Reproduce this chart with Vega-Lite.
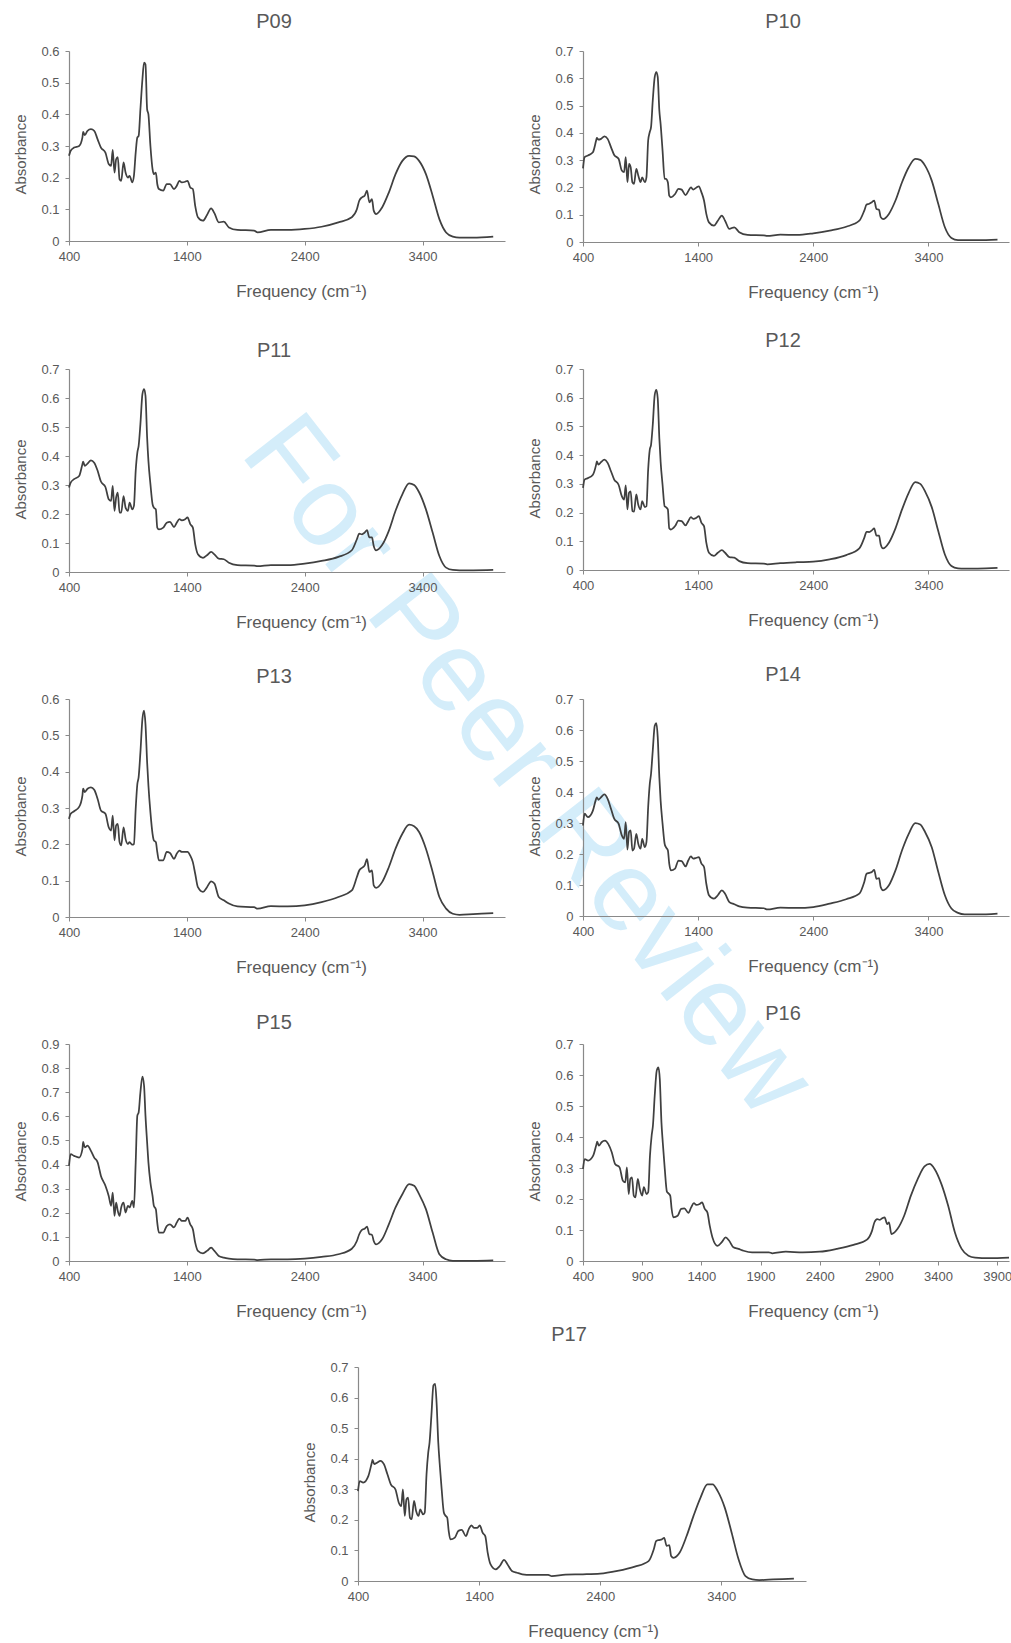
{
"$schema":"https://vega.github.io/schema/vega-lite/v6.json",
"padding":{"left":13,"top":12,"right":0,"bottom":0},
"spacing":6,
"datasets":{
"P09":[{"x":400,"y":0.269},{"x":414,"y":0.285},{"x":443,"y":0.295},{"x":486,"y":0.3},{"x":514,"y":0.327},{"x":520,"y":0.345},{"x":534,"y":0.334},{"x":557,"y":0.348},{"x":586,"y":0.353},{"x":614,"y":0.348},{"x":643,"y":0.321},{"x":671,"y":0.295},{"x":709,"y":0.279},{"x":737,"y":0.243},{"x":757,"y":0.237},{"x":771,"y":0.288},{"x":786,"y":0.216},{"x":800,"y":0.258},{"x":814,"y":0.265},{"x":829,"y":0.195},{"x":843,"y":0.19},{"x":863,"y":0.248},{"x":880,"y":0.216},{"x":900,"y":0.2},{"x":914,"y":0.206},{"x":937,"y":0.185},{"x":951,"y":0.206},{"x":966,"y":0.279},{"x":980,"y":0.327},{"x":991,"y":0.332},{"x":1006,"y":0.416},{"x":1023,"y":0.51},{"x":1037,"y":0.563},{"x":1049,"y":0.558},{"x":1063,"y":0.416},{"x":1074,"y":0.4},{"x":1091,"y":0.3},{"x":1109,"y":0.227},{"x":1120,"y":0.211},{"x":1137,"y":0.216},{"x":1149,"y":0.18},{"x":1163,"y":0.164},{"x":1200,"y":0.159},{"x":1229,"y":0.18},{"x":1257,"y":0.18},{"x":1291,"y":0.164},{"x":1314,"y":0.174},{"x":1337,"y":0.19},{"x":1357,"y":0.185},{"x":1386,"y":0.187},{"x":1406,"y":0.19},{"x":1429,"y":0.169},{"x":1451,"y":0.164},{"x":1471,"y":0.111},{"x":1494,"y":0.075},{"x":1537,"y":0.064},{"x":1571,"y":0.082},{"x":1606,"y":0.103},{"x":1634,"y":0.088},{"x":1671,"y":0.059},{"x":1714,"y":0.061},{"x":1757,"y":0.043},{"x":1829,"y":0.035},{"x":1971,"y":0.033},{"x":2000,"y":0.027},{"x":2114,"y":0.035},{"x":2257,"y":0.035},{"x":2400,"y":0.038},{"x":2543,"y":0.045},{"x":2686,"y":0.059},{"x":2800,"y":0.075},{"x":2843,"y":0.1},{"x":2863,"y":0.127},{"x":2886,"y":0.138},{"x":2909,"y":0.143},{"x":2929,"y":0.159},{"x":2949,"y":0.122},{"x":2971,"y":0.132},{"x":2986,"y":0.096},{"x":3006,"y":0.085},{"x":3057,"y":0.106},{"x":3114,"y":0.153},{"x":3171,"y":0.211},{"x":3229,"y":0.253},{"x":3286,"y":0.269},{"x":3329,"y":0.267},{"x":3371,"y":0.253},{"x":3429,"y":0.211},{"x":3486,"y":0.143},{"x":3543,"y":0.069},{"x":3600,"y":0.027},{"x":3657,"y":0.014},{"x":3714,"y":0.011},{"x":3829,"y":0.011},{"x":4000,"y":0.014}],
"P10":[{"x":400,"y":0.27},{"x":414,"y":0.311},{"x":443,"y":0.317},{"x":486,"y":0.329},{"x":514,"y":0.372},{"x":520,"y":0.382},{"x":534,"y":0.375},{"x":557,"y":0.378},{"x":586,"y":0.387},{"x":614,"y":0.378},{"x":643,"y":0.348},{"x":671,"y":0.319},{"x":709,"y":0.305},{"x":737,"y":0.262},{"x":757,"y":0.256},{"x":771,"y":0.311},{"x":786,"y":0.219},{"x":800,"y":0.286},{"x":814,"y":0.274},{"x":829,"y":0.219},{"x":843,"y":0.213},{"x":863,"y":0.268},{"x":880,"y":0.244},{"x":900,"y":0.219},{"x":914,"y":0.237},{"x":937,"y":0.219},{"x":951,"y":0.237},{"x":966,"y":0.372},{"x":980,"y":0.403},{"x":991,"y":0.421},{"x":1006,"y":0.519},{"x":1023,"y":0.605},{"x":1037,"y":0.623},{"x":1049,"y":0.605},{"x":1063,"y":0.482},{"x":1074,"y":0.433},{"x":1091,"y":0.335},{"x":1109,"y":0.231},{"x":1120,"y":0.231},{"x":1137,"y":0.219},{"x":1149,"y":0.17},{"x":1163,"y":0.164},{"x":1200,"y":0.176},{"x":1229,"y":0.195},{"x":1257,"y":0.192},{"x":1291,"y":0.172},{"x":1314,"y":0.186},{"x":1337,"y":0.2},{"x":1357,"y":0.192},{"x":1386,"y":0.2},{"x":1406,"y":0.204},{"x":1429,"y":0.182},{"x":1451,"y":0.152},{"x":1471,"y":0.103},{"x":1494,"y":0.072},{"x":1537,"y":0.06},{"x":1571,"y":0.078},{"x":1606,"y":0.097},{"x":1634,"y":0.078},{"x":1671,"y":0.048},{"x":1714,"y":0.054},{"x":1757,"y":0.036},{"x":1829,"y":0.026},{"x":1971,"y":0.024},{"x":2000,"y":0.022},{"x":2114,"y":0.027},{"x":2257,"y":0.026},{"x":2400,"y":0.032},{"x":2543,"y":0.042},{"x":2686,"y":0.056},{"x":2800,"y":0.078},{"x":2843,"y":0.115},{"x":2863,"y":0.137},{"x":2886,"y":0.14},{"x":2909,"y":0.146},{"x":2929,"y":0.152},{"x":2949,"y":0.121},{"x":2971,"y":0.118},{"x":2986,"y":0.091},{"x":3006,"y":0.084},{"x":3057,"y":0.103},{"x":3114,"y":0.152},{"x":3171,"y":0.219},{"x":3229,"y":0.274},{"x":3286,"y":0.305},{"x":3329,"y":0.301},{"x":3371,"y":0.28},{"x":3429,"y":0.225},{"x":3486,"y":0.139},{"x":3543,"y":0.054},{"x":3600,"y":0.015},{"x":3657,"y":0.007},{"x":3714,"y":0.007},{"x":3829,"y":0.007},{"x":4000,"y":0.009}],
"P11":[{"x":400,"y":0.291},{"x":414,"y":0.308},{"x":443,"y":0.32},{"x":486,"y":0.331},{"x":514,"y":0.372},{"x":520,"y":0.381},{"x":534,"y":0.366},{"x":557,"y":0.374},{"x":586,"y":0.385},{"x":614,"y":0.377},{"x":643,"y":0.349},{"x":671,"y":0.312},{"x":709,"y":0.293},{"x":737,"y":0.251},{"x":757,"y":0.245},{"x":771,"y":0.297},{"x":786,"y":0.211},{"x":800,"y":0.257},{"x":814,"y":0.274},{"x":829,"y":0.205},{"x":843,"y":0.205},{"x":863,"y":0.262},{"x":880,"y":0.222},{"x":900,"y":0.211},{"x":914,"y":0.239},{"x":937,"y":0.216},{"x":951,"y":0.228},{"x":966,"y":0.349},{"x":980,"y":0.412},{"x":991,"y":0.435},{"x":1006,"y":0.51},{"x":1023,"y":0.613},{"x":1037,"y":0.631},{"x":1049,"y":0.608},{"x":1063,"y":0.464},{"x":1074,"y":0.383},{"x":1091,"y":0.303},{"x":1109,"y":0.234},{"x":1120,"y":0.222},{"x":1137,"y":0.216},{"x":1149,"y":0.153},{"x":1163,"y":0.147},{"x":1200,"y":0.153},{"x":1229,"y":0.17},{"x":1257,"y":0.173},{"x":1291,"y":0.155},{"x":1314,"y":0.17},{"x":1337,"y":0.182},{"x":1357,"y":0.178},{"x":1386,"y":0.182},{"x":1406,"y":0.188},{"x":1429,"y":0.165},{"x":1451,"y":0.153},{"x":1471,"y":0.096},{"x":1494,"y":0.061},{"x":1537,"y":0.049},{"x":1571,"y":0.058},{"x":1606,"y":0.069},{"x":1634,"y":0.061},{"x":1671,"y":0.046},{"x":1714,"y":0.044},{"x":1757,"y":0.032},{"x":1829,"y":0.024},{"x":1971,"y":0.022},{"x":2000,"y":0.02},{"x":2114,"y":0.024},{"x":2257,"y":0.024},{"x":2400,"y":0.029},{"x":2543,"y":0.038},{"x":2686,"y":0.052},{"x":2800,"y":0.075},{"x":2843,"y":0.113},{"x":2863,"y":0.132},{"x":2886,"y":0.13},{"x":2909,"y":0.136},{"x":2929,"y":0.144},{"x":2949,"y":0.119},{"x":2971,"y":0.119},{"x":2986,"y":0.09},{"x":3006,"y":0.075},{"x":3057,"y":0.093},{"x":3114,"y":0.142},{"x":3171,"y":0.211},{"x":3229,"y":0.268},{"x":3286,"y":0.306},{"x":3329,"y":0.3},{"x":3371,"y":0.275},{"x":3429,"y":0.216},{"x":3486,"y":0.136},{"x":3543,"y":0.055},{"x":3600,"y":0.015},{"x":3657,"y":0.007},{"x":3714,"y":0.006},{"x":3829,"y":0.006},{"x":4000,"y":0.007}],
"P12":[{"x":400,"y":0.286},{"x":414,"y":0.315},{"x":443,"y":0.32},{"x":486,"y":0.332},{"x":514,"y":0.367},{"x":520,"y":0.378},{"x":534,"y":0.367},{"x":557,"y":0.376},{"x":586,"y":0.384},{"x":614,"y":0.373},{"x":643,"y":0.344},{"x":671,"y":0.315},{"x":709,"y":0.297},{"x":737,"y":0.257},{"x":757,"y":0.245},{"x":771,"y":0.295},{"x":786,"y":0.211},{"x":800,"y":0.269},{"x":814,"y":0.274},{"x":829,"y":0.205},{"x":843,"y":0.203},{"x":863,"y":0.263},{"x":880,"y":0.227},{"x":900,"y":0.211},{"x":914,"y":0.24},{"x":937,"y":0.219},{"x":951,"y":0.222},{"x":966,"y":0.35},{"x":980,"y":0.419},{"x":991,"y":0.436},{"x":1006,"y":0.506},{"x":1023,"y":0.61},{"x":1037,"y":0.627},{"x":1049,"y":0.598},{"x":1063,"y":0.459},{"x":1074,"y":0.378},{"x":1091,"y":0.297},{"x":1109,"y":0.222},{"x":1120,"y":0.219},{"x":1137,"y":0.211},{"x":1149,"y":0.145},{"x":1163,"y":0.141},{"x":1200,"y":0.153},{"x":1229,"y":0.172},{"x":1257,"y":0.17},{"x":1291,"y":0.155},{"x":1314,"y":0.17},{"x":1337,"y":0.184},{"x":1357,"y":0.178},{"x":1386,"y":0.182},{"x":1406,"y":0.188},{"x":1429,"y":0.164},{"x":1451,"y":0.153},{"x":1471,"y":0.095},{"x":1494,"y":0.06},{"x":1537,"y":0.049},{"x":1571,"y":0.06},{"x":1606,"y":0.069},{"x":1634,"y":0.06},{"x":1671,"y":0.045},{"x":1714,"y":0.043},{"x":1757,"y":0.031},{"x":1829,"y":0.024},{"x":1971,"y":0.022},{"x":2000,"y":0.02},{"x":2114,"y":0.024},{"x":2257,"y":0.027},{"x":2400,"y":0.029},{"x":2543,"y":0.037},{"x":2686,"y":0.052},{"x":2800,"y":0.075},{"x":2843,"y":0.112},{"x":2863,"y":0.133},{"x":2886,"y":0.132},{"x":2909,"y":0.138},{"x":2929,"y":0.145},{"x":2949,"y":0.12},{"x":2971,"y":0.12},{"x":2986,"y":0.089},{"x":3006,"y":0.075},{"x":3057,"y":0.095},{"x":3114,"y":0.145},{"x":3171,"y":0.211},{"x":3229,"y":0.269},{"x":3286,"y":0.306},{"x":3329,"y":0.3},{"x":3371,"y":0.274},{"x":3429,"y":0.219},{"x":3486,"y":0.135},{"x":3543,"y":0.054},{"x":3600,"y":0.014},{"x":3657,"y":0.006},{"x":3714,"y":0.005},{"x":3829,"y":0.005},{"x":4000,"y":0.007}],
"P13":[{"x":400,"y":0.27},{"x":414,"y":0.284},{"x":443,"y":0.291},{"x":486,"y":0.303},{"x":514,"y":0.335},{"x":520,"y":0.353},{"x":534,"y":0.344},{"x":557,"y":0.353},{"x":586,"y":0.357},{"x":614,"y":0.35},{"x":643,"y":0.325},{"x":671,"y":0.293},{"x":709,"y":0.284},{"x":737,"y":0.247},{"x":757,"y":0.238},{"x":771,"y":0.279},{"x":786,"y":0.211},{"x":800,"y":0.252},{"x":814,"y":0.256},{"x":829,"y":0.206},{"x":843,"y":0.197},{"x":863,"y":0.247},{"x":880,"y":0.215},{"x":900,"y":0.201},{"x":914,"y":0.206},{"x":937,"y":0.199},{"x":951,"y":0.201},{"x":966,"y":0.298},{"x":980,"y":0.366},{"x":991,"y":0.385},{"x":1006,"y":0.453},{"x":1023,"y":0.545},{"x":1037,"y":0.568},{"x":1049,"y":0.531},{"x":1063,"y":0.426},{"x":1074,"y":0.362},{"x":1091,"y":0.288},{"x":1109,"y":0.229},{"x":1120,"y":0.211},{"x":1137,"y":0.206},{"x":1149,"y":0.179},{"x":1163,"y":0.156},{"x":1200,"y":0.156},{"x":1229,"y":0.179},{"x":1257,"y":0.176},{"x":1291,"y":0.16},{"x":1314,"y":0.174},{"x":1337,"y":0.183},{"x":1357,"y":0.179},{"x":1386,"y":0.179},{"x":1406,"y":0.179},{"x":1429,"y":0.169},{"x":1451,"y":0.151},{"x":1471,"y":0.119},{"x":1494,"y":0.082},{"x":1537,"y":0.069},{"x":1571,"y":0.082},{"x":1606,"y":0.098},{"x":1634,"y":0.092},{"x":1671,"y":0.055},{"x":1714,"y":0.046},{"x":1757,"y":0.037},{"x":1829,"y":0.029},{"x":1971,"y":0.027},{"x":2000,"y":0.023},{"x":2114,"y":0.03},{"x":2257,"y":0.029},{"x":2400,"y":0.032},{"x":2543,"y":0.041},{"x":2686,"y":0.055},{"x":2800,"y":0.073},{"x":2843,"y":0.11},{"x":2863,"y":0.128},{"x":2886,"y":0.135},{"x":2909,"y":0.142},{"x":2929,"y":0.159},{"x":2949,"y":0.124},{"x":2971,"y":0.128},{"x":2986,"y":0.087},{"x":3006,"y":0.08},{"x":3057,"y":0.096},{"x":3114,"y":0.137},{"x":3171,"y":0.188},{"x":3229,"y":0.229},{"x":3286,"y":0.254},{"x":3329,"y":0.25},{"x":3371,"y":0.234},{"x":3429,"y":0.188},{"x":3486,"y":0.124},{"x":3543,"y":0.055},{"x":3600,"y":0.023},{"x":3657,"y":0.009},{"x":3714,"y":0.006},{"x":3829,"y":0.008},{"x":4000,"y":0.011}],
"P14":[{"x":400,"y":0.292},{"x":414,"y":0.33},{"x":443,"y":0.319},{"x":486,"y":0.34},{"x":514,"y":0.378},{"x":520,"y":0.383},{"x":534,"y":0.375},{"x":557,"y":0.383},{"x":586,"y":0.392},{"x":614,"y":0.378},{"x":643,"y":0.346},{"x":671,"y":0.314},{"x":709,"y":0.298},{"x":737,"y":0.26},{"x":757,"y":0.249},{"x":771,"y":0.303},{"x":786,"y":0.214},{"x":800,"y":0.271},{"x":814,"y":0.276},{"x":829,"y":0.211},{"x":843,"y":0.217},{"x":863,"y":0.265},{"x":880,"y":0.233},{"x":900,"y":0.217},{"x":914,"y":0.249},{"x":937,"y":0.222},{"x":951,"y":0.238},{"x":966,"y":0.351},{"x":980,"y":0.426},{"x":991,"y":0.459},{"x":1006,"y":0.534},{"x":1023,"y":0.614},{"x":1037,"y":0.622},{"x":1049,"y":0.577},{"x":1063,"y":0.448},{"x":1074,"y":0.373},{"x":1091,"y":0.298},{"x":1109,"y":0.233},{"x":1120,"y":0.222},{"x":1137,"y":0.212},{"x":1149,"y":0.169},{"x":1163,"y":0.147},{"x":1200,"y":0.153},{"x":1229,"y":0.179},{"x":1257,"y":0.177},{"x":1291,"y":0.16},{"x":1314,"y":0.179},{"x":1337,"y":0.192},{"x":1357,"y":0.185},{"x":1386,"y":0.188},{"x":1406,"y":0.19},{"x":1429,"y":0.169},{"x":1451,"y":0.158},{"x":1471,"y":0.104},{"x":1494,"y":0.067},{"x":1537,"y":0.056},{"x":1571,"y":0.067},{"x":1606,"y":0.083},{"x":1634,"y":0.072},{"x":1671,"y":0.045},{"x":1714,"y":0.038},{"x":1757,"y":0.031},{"x":1829,"y":0.027},{"x":1971,"y":0.025},{"x":2000,"y":0.021},{"x":2114,"y":0.027},{"x":2257,"y":0.026},{"x":2400,"y":0.029},{"x":2543,"y":0.04},{"x":2686,"y":0.054},{"x":2800,"y":0.072},{"x":2843,"y":0.11},{"x":2863,"y":0.136},{"x":2886,"y":0.139},{"x":2909,"y":0.142},{"x":2929,"y":0.149},{"x":2949,"y":0.12},{"x":2971,"y":0.122},{"x":2986,"y":0.093},{"x":3006,"y":0.083},{"x":3057,"y":0.099},{"x":3114,"y":0.147},{"x":3171,"y":0.212},{"x":3229,"y":0.265},{"x":3286,"y":0.3},{"x":3329,"y":0.295},{"x":3371,"y":0.271},{"x":3429,"y":0.222},{"x":3486,"y":0.142},{"x":3543,"y":0.067},{"x":3600,"y":0.024},{"x":3657,"y":0.01},{"x":3714,"y":0.005},{"x":3829,"y":0.005},{"x":4000,"y":0.008}],
"P15":[{"x":400,"y":0.395},{"x":414,"y":0.443},{"x":443,"y":0.436},{"x":486,"y":0.429},{"x":514,"y":0.464},{"x":520,"y":0.494},{"x":534,"y":0.471},{"x":557,"y":0.478},{"x":586,"y":0.457},{"x":614,"y":0.429},{"x":643,"y":0.409},{"x":671,"y":0.353},{"x":709,"y":0.312},{"x":737,"y":0.27},{"x":757,"y":0.229},{"x":771,"y":0.284},{"x":786,"y":0.187},{"x":800,"y":0.242},{"x":814,"y":0.208},{"x":829,"y":0.187},{"x":843,"y":0.222},{"x":863,"y":0.242},{"x":880,"y":0.201},{"x":900,"y":0.229},{"x":914,"y":0.222},{"x":937,"y":0.249},{"x":951,"y":0.222},{"x":966,"y":0.409},{"x":980,"y":0.603},{"x":991,"y":0.616},{"x":1006,"y":0.7},{"x":1023,"y":0.765},{"x":1037,"y":0.727},{"x":1049,"y":0.603},{"x":1063,"y":0.492},{"x":1074,"y":0.409},{"x":1091,"y":0.325},{"x":1109,"y":0.27},{"x":1120,"y":0.229},{"x":1137,"y":0.215},{"x":1149,"y":0.159},{"x":1163,"y":0.118},{"x":1200,"y":0.118},{"x":1229,"y":0.145},{"x":1257,"y":0.152},{"x":1291,"y":0.139},{"x":1314,"y":0.159},{"x":1337,"y":0.176},{"x":1357,"y":0.166},{"x":1386,"y":0.166},{"x":1406,"y":0.18},{"x":1429,"y":0.152},{"x":1451,"y":0.132},{"x":1471,"y":0.076},{"x":1494,"y":0.042},{"x":1537,"y":0.032},{"x":1571,"y":0.042},{"x":1606,"y":0.055},{"x":1634,"y":0.042},{"x":1671,"y":0.021},{"x":1714,"y":0.014},{"x":1757,"y":0.01},{"x":1829,"y":0.007},{"x":1971,"y":0.006},{"x":2000,"y":0.004},{"x":2114,"y":0.007},{"x":2257,"y":0.007},{"x":2400,"y":0.01},{"x":2543,"y":0.017},{"x":2686,"y":0.028},{"x":2800,"y":0.051},{"x":2843,"y":0.083},{"x":2863,"y":0.111},{"x":2886,"y":0.129},{"x":2909,"y":0.134},{"x":2929,"y":0.143},{"x":2949,"y":0.111},{"x":2971,"y":0.109},{"x":2986,"y":0.083},{"x":3006,"y":0.069},{"x":3057,"y":0.09},{"x":3114,"y":0.152},{"x":3171,"y":0.222},{"x":3229,"y":0.277},{"x":3286,"y":0.319},{"x":3329,"y":0.312},{"x":3371,"y":0.277},{"x":3429,"y":0.215},{"x":3486,"y":0.118},{"x":3543,"y":0.028},{"x":3600,"y":0.007},{"x":3657,"y":0.001},{"x":3714,"y":0.001},{"x":3829,"y":0.001},{"x":4000,"y":0.003}],
"P16":[{"x":400,"y":0.297},{"x":414,"y":0.329},{"x":443,"y":0.324},{"x":486,"y":0.34},{"x":514,"y":0.377},{"x":520,"y":0.385},{"x":534,"y":0.372},{"x":557,"y":0.383},{"x":586,"y":0.388},{"x":614,"y":0.377},{"x":643,"y":0.351},{"x":671,"y":0.313},{"x":709,"y":0.302},{"x":737,"y":0.259},{"x":757,"y":0.254},{"x":771,"y":0.302},{"x":786,"y":0.216},{"x":800,"y":0.265},{"x":814,"y":0.27},{"x":829,"y":0.211},{"x":843,"y":0.205},{"x":863,"y":0.265},{"x":880,"y":0.232},{"x":900,"y":0.211},{"x":914,"y":0.238},{"x":937,"y":0.216},{"x":951,"y":0.222},{"x":966,"y":0.34},{"x":980,"y":0.404},{"x":991,"y":0.437},{"x":1006,"y":0.533},{"x":1023,"y":0.614},{"x":1037,"y":0.625},{"x":1049,"y":0.587},{"x":1063,"y":0.447},{"x":1074,"y":0.383},{"x":1091,"y":0.297},{"x":1109,"y":0.224},{"x":1120,"y":0.219},{"x":1137,"y":0.211},{"x":1149,"y":0.168},{"x":1163,"y":0.141},{"x":1200,"y":0.146},{"x":1229,"y":0.168},{"x":1257,"y":0.17},{"x":1291,"y":0.155},{"x":1314,"y":0.173},{"x":1337,"y":0.187},{"x":1357,"y":0.181},{"x":1386,"y":0.184},{"x":1406,"y":0.189},{"x":1429,"y":0.168},{"x":1451,"y":0.157},{"x":1471,"y":0.114},{"x":1494,"y":0.076},{"x":1537,"y":0.049},{"x":1571,"y":0.06},{"x":1606,"y":0.076},{"x":1634,"y":0.066},{"x":1671,"y":0.044},{"x":1714,"y":0.039},{"x":1757,"y":0.033},{"x":1829,"y":0.028},{"x":1971,"y":0.028},{"x":2000,"y":0.025},{"x":2114,"y":0.03},{"x":2257,"y":0.028},{"x":2400,"y":0.03},{"x":2543,"y":0.039},{"x":2686,"y":0.052},{"x":2800,"y":0.069},{"x":2843,"y":0.098},{"x":2863,"y":0.125},{"x":2886,"y":0.135},{"x":2909,"y":0.133},{"x":2929,"y":0.138},{"x":2949,"y":0.141},{"x":2971,"y":0.119},{"x":2986,"y":0.125},{"x":3006,"y":0.087},{"x":3057,"y":0.103},{"x":3114,"y":0.146},{"x":3171,"y":0.211},{"x":3229,"y":0.265},{"x":3286,"y":0.305},{"x":3329,"y":0.313},{"x":3371,"y":0.297},{"x":3429,"y":0.248},{"x":3486,"y":0.178},{"x":3543,"y":0.092},{"x":3600,"y":0.039},{"x":3657,"y":0.017},{"x":3714,"y":0.011},{"x":3829,"y":0.009},{"x":4000,"y":0.011}],
"P17":[{"x":400,"y":0.294},{"x":414,"y":0.327},{"x":443,"y":0.322},{"x":486,"y":0.344},{"x":514,"y":0.387},{"x":520,"y":0.396},{"x":534,"y":0.382},{"x":557,"y":0.387},{"x":586,"y":0.393},{"x":614,"y":0.382},{"x":643,"y":0.349},{"x":671,"y":0.316},{"x":709,"y":0.3},{"x":737,"y":0.256},{"x":757,"y":0.245},{"x":771,"y":0.3},{"x":786,"y":0.213},{"x":800,"y":0.267},{"x":814,"y":0.273},{"x":829,"y":0.207},{"x":843,"y":0.202},{"x":863,"y":0.262},{"x":880,"y":0.229},{"x":900,"y":0.213},{"x":914,"y":0.234},{"x":937,"y":0.218},{"x":951,"y":0.224},{"x":966,"y":0.349},{"x":980,"y":0.42},{"x":991,"y":0.453},{"x":1006,"y":0.54},{"x":1023,"y":0.64},{"x":1037,"y":0.645},{"x":1049,"y":0.583},{"x":1063,"y":0.453},{"x":1074,"y":0.387},{"x":1091,"y":0.3},{"x":1109,"y":0.224},{"x":1120,"y":0.215},{"x":1137,"y":0.207},{"x":1149,"y":0.164},{"x":1163,"y":0.136},{"x":1200,"y":0.142},{"x":1229,"y":0.164},{"x":1257,"y":0.167},{"x":1291,"y":0.147},{"x":1314,"y":0.169},{"x":1337,"y":0.182},{"x":1357,"y":0.174},{"x":1386,"y":0.174},{"x":1406,"y":0.182},{"x":1429,"y":0.158},{"x":1451,"y":0.147},{"x":1471,"y":0.093},{"x":1494,"y":0.055},{"x":1537,"y":0.038},{"x":1571,"y":0.049},{"x":1606,"y":0.069},{"x":1634,"y":0.055},{"x":1671,"y":0.033},{"x":1714,"y":0.027},{"x":1757,"y":0.022},{"x":1829,"y":0.02},{"x":1971,"y":0.02},{"x":2000,"y":0.016},{"x":2114,"y":0.021},{"x":2257,"y":0.022},{"x":2400,"y":0.024},{"x":2543,"y":0.033},{"x":2686,"y":0.047},{"x":2800,"y":0.065},{"x":2843,"y":0.104},{"x":2863,"y":0.131},{"x":2886,"y":0.134},{"x":2909,"y":0.136},{"x":2929,"y":0.141},{"x":2949,"y":0.115},{"x":2971,"y":0.117},{"x":2986,"y":0.082},{"x":3006,"y":0.076},{"x":3057,"y":0.093},{"x":3114,"y":0.147},{"x":3171,"y":0.213},{"x":3229,"y":0.273},{"x":3286,"y":0.316},{"x":3329,"y":0.316},{"x":3371,"y":0.294},{"x":3429,"y":0.24},{"x":3486,"y":0.158},{"x":3543,"y":0.071},{"x":3600,"y":0.016},{"x":3657,"y":0.005},{"x":3714,"y":0.003},{"x":3829,"y":0.005},{"x":4000,"y":0.008}]
},
"vconcat":[
{"bounds":"flush","columns":2,"spacing":{"row":127,"column":78},"concat":[
{"width":436,"height":190,"title":{"text":"P09","offset":13},
"layer":[
{"data":{"name":"P09"},"mark":{"type":"line","interpolate":"monotone"},"encoding":{"x":{"field":"x","type":"quantitative","scale":{"domain":[400,4100],"nice":false,"zero":false},"axis":{"values":[400,1400,2400,3400],"format":"d","title":"Frequency (cm⁻¹)","titleX":232}},"y":{"field":"y","type":"quantitative","scale":{"domain":[0,0.6],"nice":false,"zero":false},"axis":{"values":[0,0.1,0.2,0.3,0.4,0.5,0.6],"format":"~g","labelOverlap":false,"title":"Absorbance","titleY":103}}}},
{"data":{"values":[{"label":"For Peer Review"}]},"mark":{"type":"text","angle":52,"fontSize":114,"color":"#d4edfa","align":"center","baseline":"middle","font":"Liberation Sans"},"encoding":{"text":{"field":"label"},"x":{"datum":4285,"type":"quantitative","scale":{"domain":[400,4100],"nice":false,"zero":false},"axis":{"values":[400,1400,2400,3400],"format":"d","title":"Frequency (cm⁻¹)","titleX":232}},"y":{"datum":-1.66,"type":"quantitative","scale":{"domain":[0,0.6],"nice":false,"zero":false},"axis":{"values":[0,0.1,0.2,0.3,0.4,0.5,0.6],"format":"~g","labelOverlap":false,"title":"Absorbance","titleY":103}}}}
]},
{"width":426,"height":191,"title":{"text":"P10","offset":13},"data":{"name":"P10"},"mark":{"type":"line","interpolate":"monotone"},"encoding":{"x":{"field":"x","type":"quantitative","scale":{"domain":[400,4100],"nice":false,"zero":false},"axis":{"values":[400,1400,2400,3400],"format":"d","title":"Frequency (cm⁻¹)","titleX":230}},"y":{"field":"y","type":"quantitative","scale":{"domain":[0,0.7],"nice":false},"axis":{"values":[0,0.1,0.2,0.3,0.4,0.5,0.6,0.7],"format":"~g","title":"Absorbance","titleY":103}}}},
{"width":436,"height":203,"title":{"text":"P11","offset":2},"data":{"name":"P11"},"mark":{"type":"line","interpolate":"monotone"},"encoding":{"x":{"field":"x","type":"quantitative","scale":{"domain":[400,4100],"nice":false,"zero":false},"axis":{"values":[400,1400,2400,3400],"format":"d","title":"Frequency (cm⁻¹)","titleX":232}},"y":{"field":"y","type":"quantitative","scale":{"domain":[0,0.7],"nice":false},"axis":{"values":[0,0.1,0.2,0.3,0.4,0.5,0.6,0.7],"format":"~g","title":"Absorbance","titleY":110}}}},
{"width":426,"height":201,"title":{"text":"P12","offset":12},"data":{"name":"P12"},"mark":{"type":"line","interpolate":"monotone"},"encoding":{"x":{"field":"x","type":"quantitative","scale":{"domain":[400,4100],"nice":false,"zero":false},"axis":{"values":[400,1400,2400,3400],"format":"d","title":"Frequency (cm⁻¹)","titleX":230}},"y":{"field":"y","type":"quantitative","scale":{"domain":[0,0.7],"nice":false},"axis":{"values":[0,0.1,0.2,0.3,0.4,0.5,0.6,0.7],"format":"~g","title":"Absorbance","titleY":109}}}},
{"width":436,"height":218,"title":{"text":"P13","offset":6},"data":{"name":"P13"},"mark":{"type":"line","interpolate":"monotone"},"encoding":{"x":{"field":"x","type":"quantitative","scale":{"domain":[400,4100],"nice":false,"zero":false},"axis":{"values":[400,1400,2400,3400],"format":"d","title":"Frequency (cm⁻¹)","titleX":232}},"y":{"field":"y","type":"quantitative","scale":{"domain":[0,0.6],"nice":false},"axis":{"values":[0,0.1,0.2,0.3,0.4,0.5,0.6],"format":"~g","title":"Absorbance","titleY":117}}}},
{"width":426,"height":217,"title":{"text":"P14","offset":8},"data":{"name":"P14"},"mark":{"type":"line","interpolate":"monotone"},"encoding":{"x":{"field":"x","type":"quantitative","scale":{"domain":[400,4100],"nice":false,"zero":false},"axis":{"values":[400,1400,2400,3400],"format":"d","title":"Frequency (cm⁻¹)","titleX":230}},"y":{"field":"y","type":"quantitative","scale":{"domain":[0,0.7],"nice":false},"axis":{"values":[0,0.1,0.2,0.3,0.4,0.5,0.6,0.7],"format":"~g","title":"Absorbance","titleY":117}}}},
{"width":436,"height":217,"title":{"text":"P15","offset":5},"data":{"name":"P15"},"mark":{"type":"line","interpolate":"monotone"},"encoding":{"x":{"field":"x","type":"quantitative","scale":{"domain":[400,4100],"nice":false,"zero":false},"axis":{"values":[400,1400,2400,3400],"format":"d","title":"Frequency (cm⁻¹)","titleX":232}},"y":{"field":"y","type":"quantitative","scale":{"domain":[0,0.9],"nice":false},"axis":{"values":[0,0.1,0.2,0.3,0.4,0.5,0.6,0.7,0.8,0.9],"format":"~g","title":"Absorbance","titleY":117}}}},
{"width":426,"height":217,"title":{"text":"P16","offset":14},"data":{"name":"P16"},"mark":{"type":"line","interpolate":"monotone"},"encoding":{"x":{"field":"x","type":"quantitative","scale":{"domain":[400,4000],"nice":false,"zero":false},"axis":{"values":[400,900,1400,1900,2400,2900,3400,3900],"format":"d","title":"Frequency (cm⁻¹)","titleX":230}},"y":{"field":"y","type":"quantitative","scale":{"domain":[0,0.7],"nice":false},"axis":{"values":[0,0.1,0.2,0.3,0.4,0.5,0.6,0.7],"format":"~g","title":"Absorbance","titleY":117}}}}
]},
{"bounds":"flush","spacing":78,"hconcat":[
{"width":211,"height":214,"data":{"values":[]},"mark":"text"},
{"width":448,"height":214,"title":{"text":"P17","offset":16},"data":{"name":"P17"},"mark":{"type":"line","interpolate":"monotone"},"encoding":{"x":{"field":"x","type":"quantitative","scale":{"domain":[400,4100],"nice":false,"zero":false},"axis":{"values":[400,1400,2400,3400],"format":"d","title":"Frequency (cm⁻¹)","titleX":235}},"y":{"field":"y","type":"quantitative","scale":{"domain":[0,0.7],"nice":false},"axis":{"values":[0,0.1,0.2,0.3,0.4,0.5,0.6,0.7],"format":"~g","title":"Absorbance","titleY":115}}}}
]}
],
"config":{
"font":"Liberation Sans",
"view":{"stroke":null},
"axis":{"grid":false,"domainColor":"#898989","tickColor":"#898989","labelColor":"#595959","titleColor":"#595959","labelFontSize":13,"tickSize":4,"titleFontWeight":"normal","labelFont":"Liberation Sans","titleFont":"Liberation Sans","domainWidth":1.2},
"axisX":{"titleFontSize":17,"labelPadding":5,"titlePadding":20,"labelFlush":false},
"axisY":{"titleFontSize":15,"labelPadding":6,"titlePadding":12},
"title":{"fontSize":20,"fontWeight":"normal","color":"#595959","font":"Liberation Sans","dx":-13},
"line":{"color":"#404040","strokeWidth":1.75}
}
}
